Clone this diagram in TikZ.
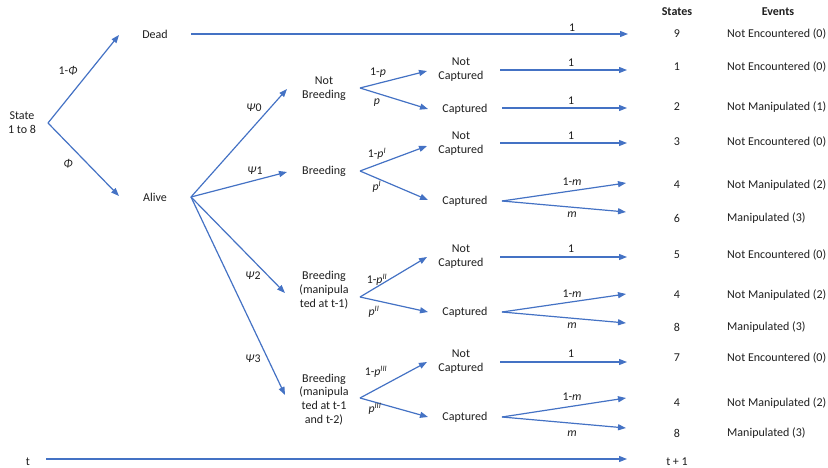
\documentclass[tikz,border=0pt]{standalone}
\usepackage{fontspec}
\setmainfont{Carlito}
\usetikzlibrary{arrows.meta}
\definecolor{arrblue}{HTML}{4472C4}
\definecolor{txt}{HTML}{1E1E1E}
\begin{document}
\begin{tikzpicture}[x=1pt,y=-1pt,
 arr/.style={draw=arrblue,line width=1.2pt,-{Triangle[length=8pt,width=6pt]}},
 txtn/.style={font=\fontsize{12}{13.8}\selectfont,text=txt,inner sep=0pt,align=center},
 lbl/.style={font=\fontsize{11.8}{13}\selectfont,text=txt,inner sep=0pt},
 ev/.style={txtn,anchor=west},
 hdr/.style={txtn,font=\fontsize{12}{13.8}\selectfont\bfseries}]
\useasboundingbox (0,0) rectangle (828,468);

% ---- text nodes ----
\node[txtn] (state) at (22,123) {State\\1 to 8};
\node[txtn] (dead) at (155,34) {Dead};
\node[txtn] (alive) at (155,197) {Alive};
\node[txtn] (nb) at (324,89) {Not\\Breeding};
\node[txtn] (br1) at (324,171) {Breeding};
\node[txtn] (br2) at (324,290) {Breeding\\(manipula\\ted at t-1)};
\node[txtn] (br3) at (324,399.5) {Breeding\\(manipula\\ted at t-1\\and t-2)};
\node[txtn] (nc0) at (461,70) {Not\\Captured};
\node[txtn] (c0) at (465,109) {Captured};
\node[txtn] (nc1) at (461,144) {Not\\Captured};
\node[txtn] (c1) at (465,201) {Captured};
\node[txtn] (nc2) at (461,256.5) {Not\\Captured};
\node[txtn] (c2) at (465,312) {Captured};
\node[txtn] (nc3) at (461,361.5) {Not\\Captured};
\node[txtn] (c3) at (465,417) {Captured};
\node[txtn] (tt) at (28,462) {t};

% headers and right columns
\node[hdr] (hs) at (677,12) {States};
\node[hdr] (he) at (778,12) {Events};
\node[txtn] (s9) at (677,34) {9};
\node[txtn] (s1) at (677,67) {1};
\node[txtn] (s2) at (677,107) {2};
\node[txtn] (s3) at (677,142) {3};
\node[txtn] (s4a) at (677,185) {4};
\node[txtn] (s6) at (677,218) {6};
\node[txtn] (s5) at (677,255) {5};
\node[txtn] (s4b) at (677,295) {4};
\node[txtn] (s8a) at (677,327) {8};
\node[txtn] (s7) at (677,358) {7};
\node[txtn] (s4c) at (677,403) {4};
\node[txtn] (s8b) at (677,433) {8};
\node[txtn] (st1) at (677,462) {t + 1};
\node[ev] (e9) at (727,34) {Not Encountered (0)};
\node[ev] (e1) at (727,67) {Not Encountered (0)};
\node[ev] (e2) at (727,107) {Not Manipulated (1)};
\node[ev] (e3) at (727,142) {Not Encountered (0)};
\node[ev] (e4a) at (727,185) {Not Manipulated (2)};
\node[ev] (e6) at (727,218) {Manipulated (3)};
\node[ev] (e5) at (727,255) {Not Encountered (0)};
\node[ev] (e4b) at (727,295) {Not Manipulated (2)};
\node[ev] (e8a) at (727,327) {Manipulated (3)};
\node[ev] (e7) at (727,358) {Not Encountered (0)};
\node[ev] (e4c) at (727,403) {Not Manipulated (2)};
\node[ev] (e8b) at (727,433) {Manipulated (3)};

% ---- coordinates ----
\coordinate (b0) at (48,123);
\coordinate (tdead) at (119,35);
\coordinate (talive) at (119,196);
\coordinate (ba) at (191,197);
\coordinate (tpsi0) at (287,89);
\coordinate (tpsi1) at (287,172);
\coordinate (tpsi2) at (285,293);
\coordinate (tpsi3) at (285,395);
\coordinate (d0) at (191,34);
\coordinate (d1) at (628,34);

\coordinate (bnb) at (360,88);
\coordinate (tnc0) at (427,71);
\coordinate (tc0) at (428,109);
\coordinate (bb1) at (360,171);
\coordinate (tnc1) at (427,146);
\coordinate (tc1) at (428,200);
\coordinate (bb2) at (360,297);
\coordinate (tnc2) at (427,257);
\coordinate (tc2) at (428,312);
\coordinate (bb3) at (360,398);
\coordinate (tnc3) at (427,362);
\coordinate (tc3) at (428,417);

\coordinate (n0s) at (500,70);  \coordinate (n0e) at (627,70);
\coordinate (c0s) at (502,108); \coordinate (c0e) at (627,108);
\coordinate (n1s) at (500,143); \coordinate (n1e) at (627,143);
\coordinate (c1s) at (502,201); \coordinate (c1u) at (626,183); \coordinate (c1d) at (626,212);
\coordinate (n2s) at (500,257); \coordinate (n2e) at (627,257);
\coordinate (c2s) at (502,312); \coordinate (c2u) at (626,294); \coordinate (c2d) at (626,323);
\coordinate (n3s) at (500,362); \coordinate (n3e) at (627,362);
\coordinate (c3s) at (502,417); \coordinate (c3u) at (626,398); \coordinate (c3d) at (626,428);
\coordinate (t0) at (46,459); \coordinate (t1) at (627,459);

% ---- connectors ----
\draw[arr] (b0) -- (tdead);
\draw[arr] (b0) -- (talive);
\draw[arr] (d0) -- (d1);
\draw[arr] (ba) -- (tpsi0);
\draw[arr] (ba) -- (tpsi1);
\draw[arr] (ba) -- (tpsi2);
\draw[arr] (ba) -- (tpsi3);
\draw[arr] (bnb) -- (tnc0);
\draw[arr] (bnb) -- (tc0);
\draw[arr] (bb1) -- (tnc1);
\draw[arr] (bb1) -- (tc1);
\draw[arr] (bb2) -- (tnc2);
\draw[arr] (bb2) -- (tc2);
\draw[arr] (bb3) -- (tnc3);
\draw[arr] (bb3) -- (tc3);
\draw[arr] (n0s) -- (n0e);
\draw[arr] (c0s) -- (c0e);
\draw[arr] (n1s) -- (n1e);
\draw[arr] (c1s) -- (c1u);
\draw[arr] (c1s) -- (c1d);
\draw[arr] (n2s) -- (n2e);
\draw[arr] (c2s) -- (c2u);
\draw[arr] (c2s) -- (c2d);
\draw[arr] (n3s) -- (n3e);
\draw[arr] (c3s) -- (c3u);
\draw[arr] (c3s) -- (c3d);
\draw[arr] (t0) -- (t1);

% ---- labels ----
\node[lbl] (l1) at (68,71) {1-\textit{Φ}};
\node[lbl] (l2) at (68,164) {\textit{Φ}};
\node[lbl] (l3) at (572,28) {1};
\node[lbl] (l4) at (254,108) {\textit{Ψ}0};
\node[lbl] (l5) at (255,171) {\textit{Ψ}1};
\node[lbl] (l6) at (253,276) {\textit{Ψ}2};
\node[lbl] (l7) at (253,359) {\textit{Ψ}3};
\node[lbl] (l8) at (378,73) {1-\textit{p}};
\node[lbl] (l9) at (377,103) {\textit{p}};
\node[lbl] (l10) at (377,154) {1-\textit{p}\textsuperscript{\textit{I}}};
\node[lbl] (l11) at (377,187) {\textit{p}\textsuperscript{\textit{I}}};
\node[lbl] (l12) at (377,280) {1-\textit{p}\textsuperscript{\textit{II}}};
\node[lbl] (l13) at (374,312) {\textit{p}\textsuperscript{\textit{II}}};
\node[lbl] (l14) at (376,372) {1-\textit{p}\textsuperscript{\textit{III}}};
\node[lbl] (l15) at (375,409) {\textit{p}\textsuperscript{\textit{III}}};
\node[lbl] (l16) at (571,63) {1};
\node[lbl] (l17) at (571,101) {1};
\node[lbl] (l18) at (571,136) {1};
\node[lbl] (l19) at (572,182) {1-\textit{m}};
\node[lbl] (l20) at (572,215) {\textit{m}};
\node[lbl] (l21) at (571,249) {1};
\node[lbl] (l22) at (572,294) {1-\textit{m}};
\node[lbl] (l23) at (572,326) {\textit{m}};
\node[lbl] (l24) at (571,354) {1};
\node[lbl] (l25) at (572,397) {1-\textit{m}};
\node[lbl] (l26) at (572,434) {\textit{m}};
\end{tikzpicture}
\end{document}
